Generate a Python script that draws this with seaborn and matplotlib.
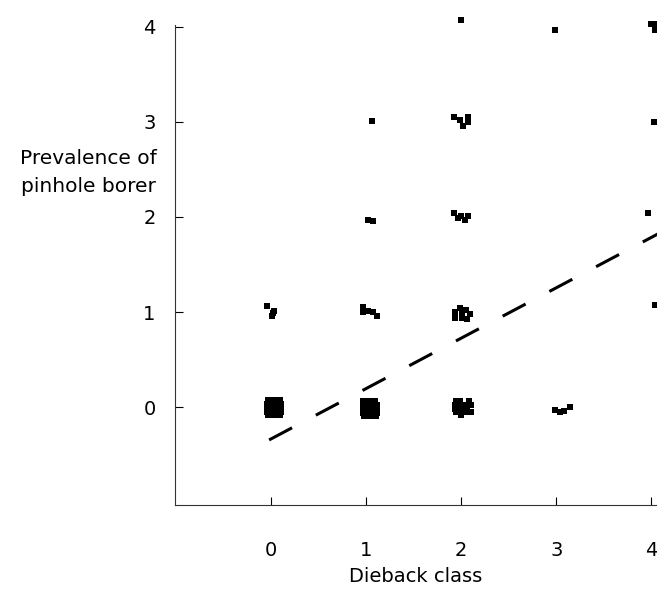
import numpy as np
import pandas as pd
import matplotlib
matplotlib.use("Agg")
import matplotlib.pyplot as plt
import seaborn as sns

dieback = [
    # class 0, prevalence 0 (dense block)
    -0.03, 0.01, 0.05, 0.09,
    -0.04, 0.00, 0.04, 0.08, 0.10,
    -0.04, 0.00, 0.04, 0.08, 0.10,
    -0.04, 0.00, 0.04, 0.08, 0.10,
    -0.03, 0.01, 0.05, 0.09,
    # class 0, prevalence 1
    -0.04, 0.03, 0.01, 0.02,
    # class 1, prevalence 0 (dense block)
    0.97, 1.01, 1.05, 1.09,
    0.97, 1.01, 1.05, 1.09, 1.12,
    0.97, 1.01, 1.05, 1.09, 1.12,
    0.97, 1.01, 1.05, 1.09, 1.12,
    0.98, 1.02, 1.06, 1.10,
    # class 1, prevalence 1 / 2 / 3
    0.97, 0.97, 1.02, 1.07, 1.12,
    1.02, 1.07,
    1.06,
    # class 2, prevalence 0
    1.95, 1.99, 2.08,
    1.94, 1.98, 2.02, 2.06, 2.10,
    1.94, 1.98, 2.02, 2.06,
    1.95, 1.99, 2.03, 2.07, 2.10,
    2.00,
    # class 2, prevalence 1
    1.94, 1.99, 2.05, 2.09, 2.01, 1.94, 2.06, 2.01,
    # class 2, prevalence 2
    1.92, 2.00, 2.07, 2.04, 1.97,
    # class 2, prevalence 3
    1.92, 1.99, 2.02, 2.07, 2.07,
    # class 2, prevalence 4
    2.00,
    # class 3, prevalence 0 / 4
    2.99, 3.04, 3.08, 3.14,
    2.99,
    # class 4
    3.97, 4.04, 4.03, 4.00, 4.06, 4.04,
]
prevalence = [
    0.07, 0.07, 0.07, 0.07,
    0.03, 0.03, 0.03, 0.03, 0.03,
    -0.01, -0.01, -0.01, -0.01, -0.01,
    -0.05, -0.05, -0.05, -0.05, -0.05,
    -0.08, -0.08, -0.08, -0.08,
    1.06, 1.01, 0.96, 0.99,
    0.06, 0.06, 0.06, 0.06,
    0.02, 0.02, 0.02, 0.02, 0.02,
    -0.02, -0.02, -0.02, -0.02, -0.02,
    -0.06, -0.06, -0.06, -0.06, -0.06,
    -0.09, -0.09, -0.09, -0.09,
    1.05, 1.00, 1.01, 1.00, 0.96,
    1.97, 1.96,
    3.01,
    0.06, 0.06, 0.06,
    0.02, 0.02, 0.02, 0.02, 0.02,
    -0.02, -0.02, -0.02, -0.02,
    -0.05, -0.05, -0.05, -0.05, -0.05,
    -0.08,
    1.00, 1.04, 1.02, 0.98, 0.94, 0.94, 0.93, 0.99,
    2.04, 2.01, 2.01, 1.97, 1.99,
    3.05, 3.02, 2.96, 3.05, 3.00,
    4.07,
    -0.03, -0.05, -0.04, 0.00,
    3.97,
    2.04, 1.07, 3.00, 4.03, 4.03, 3.97,
]

# Fitted regression line (dashed)
fit_intercept = -0.335
fit_slope = 0.53
fit_x = [-0.02, 4.1]

df = pd.DataFrame({"dieback": dieback, "prevalence": prevalence})
fit = pd.DataFrame({"x": fit_x})
fit["y"] = fit_intercept + fit_slope * fit["x"]

sns.set_style("ticks")
plt.rcParams["font.family"] = ["DejaVu Sans"]

fig = plt.figure(figsize=(6.57, 5.91), dpi=100)
ax = fig.add_axes([175 / 657, 86 / 591, 482 / 657, 480 / 591])

sns.scatterplot(data=df, x="dieback", y="prevalence", marker="s", s=14,
                color="black", linewidth=0, ax=ax, clip_on=False, zorder=3)
sns.lineplot(data=fit, x="x", y="y", color="black", linewidth=2.2,
             linestyle=(0, (8.5, 8.8)), ax=ax)

ax.set_xlim(-1.01, 4.06)
ax.set_ylim(-1.03, 4.02)
ax.set_xticks([0, 1, 2, 3, 4])
ax.set_yticks([0, 1, 2, 3, 4])
ax.tick_params(axis="both", direction="in", length=6, width=0.8,
               labelsize=14, colors="black")
ax.tick_params(axis="y", pad=14)
ax.tick_params(axis="x", pad=26)
for side in ["top", "right"]:
    ax.spines[side].set_visible(False)
for side in ["left", "bottom"]:
    ax.spines[side].set_linewidth(0.8)
    ax.spines[side].set_color("#333333")

ax.set_xlabel("Dieback class", fontsize=14, labelpad=5, color="black")
ax.set_ylabel("")
fig.text(88 / 657, 1 - 173 / 591, "Prevalence of\npinhole borer",
         ha="center", va="center", fontsize=14.5, linespacing=1.6,
         color="black")

fig.savefig("out.png", dpi=100)
